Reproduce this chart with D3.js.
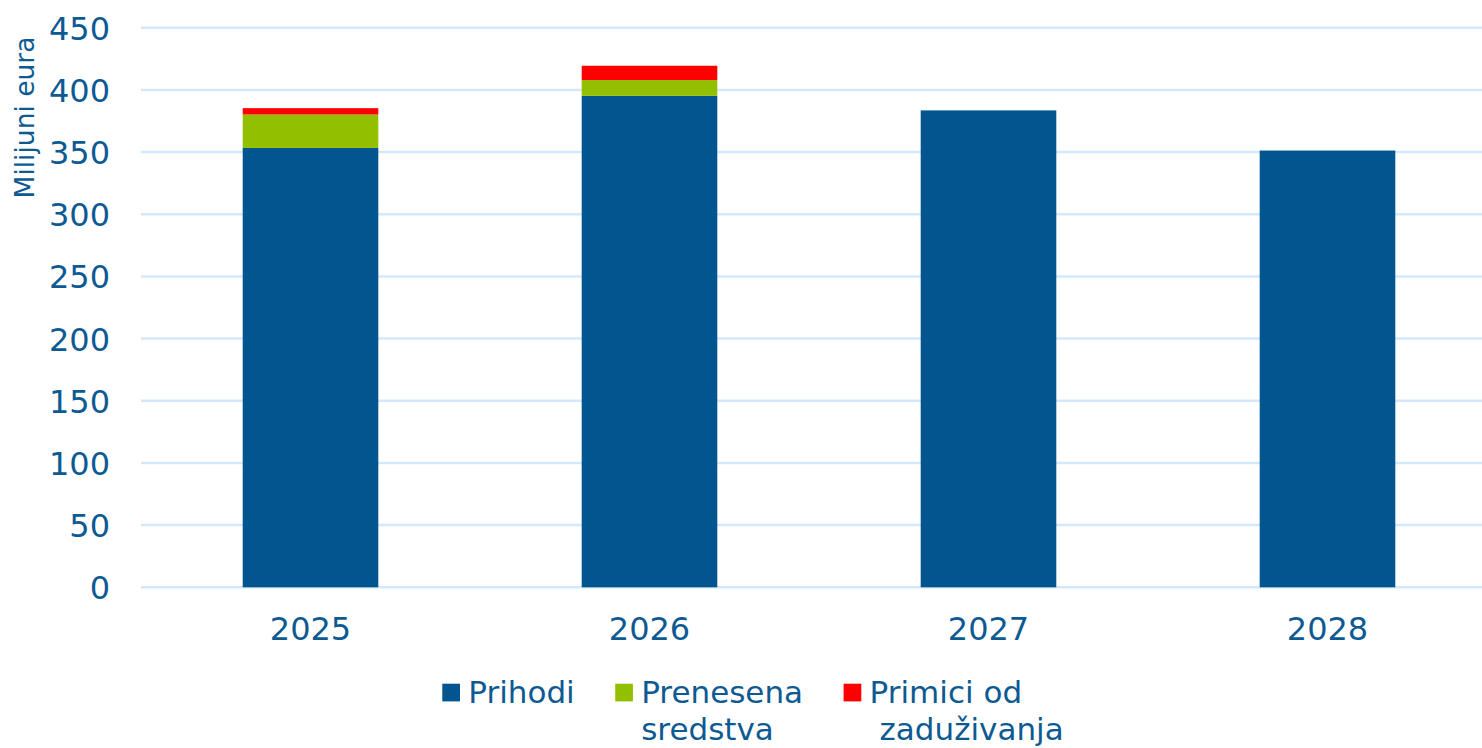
<!DOCTYPE html>
<html>
<head>
<meta charset="utf-8">
<script src="https://cdn.jsdelivr.net/npm/d3@7"></script>
<style>
  body { margin: 0; background: #ffffff; }
  svg { display: block; }
</style>
</head>
<body>
<div id="chart"></div>
<script>
// godine, izvori financiranja (milijuni eura)
const years = ["2025", "2026", "2027", "2028"];
const prihodi = [353.3, 395.2, 383.5, 351.2];
const prenesena = [26.9, 12.7, 0, 0];
const primici = [5.1, 11.5, 0, 0];

const seriesKeys = ["prihodi", "prenesena", "primici"];
const legendLines = [["Prihodi"], ["Prenesena", "sredstva"], ["Primici od", "zaduživanja"]];
const yTicks = [0, 50, 100, 150, 200, 250, 300, 350, 400, 450];
const yTitle = "Milijuni eura";

const textColor = "#0d5a93";

function init() {
    var data = years.map(function(y, i) {
        return { year: y, prihodi: prihodi[i], prenesena: prenesena[i], primici: primici[i] };
    });
    createStackedBarChart(data);
}

function createStackedBarChart(data) {
    const width = 1482, height = 748;

    const svg = d3.select("div#chart")
        .append("svg")
        .attr("width", width)
        .attr("height", height);

    const x = d3.scaleBand()
        .domain(years)
        .range([141, 1497])
        .paddingInner(0.6)
        .paddingOuter(0.3);

    const y = d3.scaleLinear()
        .domain([0, 450])
        .range([587.3, 27.7]);

    const color = d3.scaleOrdinal()
        .domain(seriesKeys)
        .range(["#02558f", "#92c000", "#ff0000"]);

    // gridlines
    svg.append("g")
        .selectAll("line")
        .data(yTicks)
        .enter().append("line")
        .attr("x1", 141)
        .attr("x2", width)
        .attr("y1", d => y(d))
        .attr("y2", d => y(d))
        .attr("stroke", "#d3e9fb")
        .attr("stroke-width", 2.5);

    // y axis labels
    const yAxis = svg.append("g")
        .attr("transform", "translate(141,0)")
        .call(d3.axisLeft(y).tickValues(yTicks).tickSize(0).tickPadding(31));
    yAxis.select(".domain").remove();
    yAxis.selectAll("text")
        .attr("fill", textColor)
        .attr("font-family", "DejaVu Sans, Verdana, sans-serif")
        .attr("font-size", 32)
        .attr("dy", "0.36em");

    // x axis labels
    const xAxis = svg.append("g")
        .attr("transform", "translate(0," + y(0) + ")")
        .call(d3.axisBottom(x).tickSize(0).tickPadding(30));
    xAxis.select(".domain").remove();
    xAxis.selectAll("text")
        .attr("fill", textColor)
        .attr("font-family", "DejaVu Sans, Verdana, sans-serif")
        .attr("font-size", 32)
        .attr("dy", "0.71em");

    // y title
    svg.append("text")
        .attr("transform", "translate(34," + 117.5 + ") rotate(-90)")
        .attr("text-anchor", "middle")
        .attr("fill", textColor)
        .attr("font-family", "DejaVu Sans, Verdana, sans-serif")
        .attr("font-size", 26.5)
        .text(yTitle);

    const stackedData = d3.stack()
        .keys(seriesKeys)
        (data);

    svg.append("g")
        .selectAll("g")
        .data(stackedData)
        .enter().append("g")
          .attr("fill", d => color(d.key))
          .selectAll("rect")
          .data(d => d)
          .enter().append("rect")
            .attr("x", d => x(d.data.year))
            .attr("y", d => y(d[1]))
            .attr("height", d => Math.max(0, y(d[0]) - y(d[1])))
            .attr("width", x.bandwidth());

    // legend
    const legend = svg.append("g");
    var lx = 442.3;
    seriesKeys.forEach(function(k, i) {
        legend.append("rect")
            .attr("x", lx)
            .attr("y", 683.7)
            .attr("width", 17.7)
            .attr("height", 17.7)
            .attr("fill", color(k));
        const t = legend.append("text")
            .attr("fill", textColor)
            .attr("font-family", "DejaVu Sans, Verdana, sans-serif")
            .attr("font-size", 31);
        legendLines[i].forEach(function(line, j) {
            t.append("tspan")
                .attr("x", lx + 26 + (i == 2 && j == 1 ? 10 : 0))
                .attr("y", 703 + j * 37)
                .text(line);
        });
        var w = 0;
        t.selectAll("tspan").each(function() { w = Math.max(w, this.getComputedTextLength()); });
        lx = lx + 26 + w + 40.5;
    });
}

init();
</script>
</body>
</html>
